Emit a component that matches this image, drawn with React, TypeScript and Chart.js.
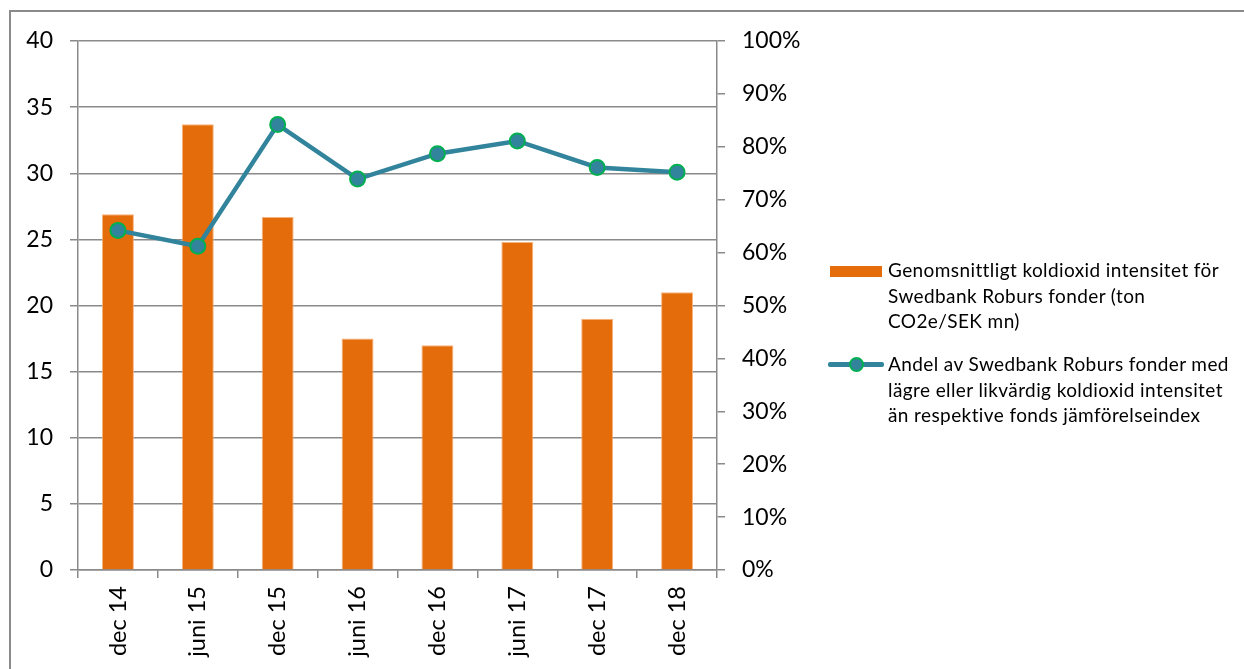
import React, { useEffect, useRef } from "react";
import { Chart, registerables } from "chart.js";

Chart.register(...registerables);

const categories = ["dec 14", "juni 15", "dec 15", "juni 16", "dec 16", "juni 17", "dec 17", "dec 18"];
const intensityValues = [26.9, 33.7, 26.7, 17.5, 17.0, 24.8, 19.0, 21.0];
const shareValues = [64.2, 61.2, 84.2, 73.9, 78.7, 81.1, 76.1, 75.2];
const leftTicks = [0, 5, 10, 15, 20, 25, 30, 35, 40];
const rightTicks = [0, 10, 20, 30, 40, 50, 60, 70, 80, 90, 100];

const barLabel = "Genomsnittligt koldioxid intensitet för Swedbank Roburs fonder (ton CO2e/SEK mn)";
const lineLabel = "Andel av Swedbank Roburs fonder med lägre eller likvärdig koldioxid intensitet än respektive fonds jämförelseindex";

const ORANGE = "#E46C0A";
const TEAL = "#31849B";
const GREEN = "#00B050";
const GRID = "#8a8a8a";
const FONT = "Lato";

export default function App() {
  const ref = useRef<HTMLCanvasElement>(null);

  useEffect(() => {
    if (!ref.current) return;
    const chart = new Chart(ref.current, {
      data: {
        labels: categories,
        datasets: [
          {
            type: "line",
            label: lineLabel,
            data: shareValues,
            yAxisID: "y1",
            borderColor: TEAL,
            borderWidth: 4.5,
            pointRadius: 7.5,
            pointBorderWidth: 2,
            pointBackgroundColor: TEAL,
            pointBorderColor: GREEN,
            tension: 0,
            order: 0,
          },
          {
            type: "bar",
            label: barLabel,
            data: intensityValues,
            yAxisID: "y",
            backgroundColor: ORANGE,
            borderColor: "rgba(247,170,110,0.9)",
            borderWidth: 1,
            categoryPercentage: 1,
            barPercentage: 0.4,
            order: 1,
          },
        ],
      },
      options: {
        responsive: false,
        animation: false,
        layout: { padding: { left: 0, top: 41, right: 417, bottom: 0 } },
        plugins: { legend: { display: false }, tooltip: { enabled: false } },
        scales: {
          x: {
            offset: true,
            grid: { drawOnChartArea: false, offset: true, tickLength: 8, color: GRID, lineWidth: 1.5 },
            border: { color: GRID, width: 1.5 },
            ticks: {
              color: "#000",
              font: { family: FONT, size: 23.5 },
              maxRotation: 90,
              minRotation: 90,
              padding: 8,
              autoSkip: false,
            },
            afterFit: (s: any) => {
              s.height = 99;
            },
          },
          y: {
            position: "left",
            min: 0,
            max: 40,
            afterBuildTicks: (s: any) => {
              s.ticks = leftTicks.map((v) => ({ value: v }));
            },
            grid: { color: GRID, lineWidth: 1.5, tickLength: 8 },
            border: { color: GRID, width: 1.5 },
            ticks: {
              color: "#000",
              font: { family: FONT, size: 23 },
              padding: 17,
              callback: (v: any) => String(v),
            },
            afterFit: (s: any) => {
              s.width = 78;
            },
          },
          y1: {
            position: "right",
            min: 0,
            max: 100,
            afterBuildTicks: (s: any) => {
              s.ticks = rightTicks.map((v) => ({ value: v }));
            },
            grid: { drawOnChartArea: false, color: GRID, lineWidth: 1.5, tickLength: 8 },
            border: { color: GRID, width: 1.5 },
            ticks: {
              color: "#000",
              font: { family: FONT, size: 23 },
              padding: 17,
              callback: (v: any) => v + "%",
            },
            afterFit: (s: any) => {
              s.width = 110;
            },
          },
        },
      },
    });
    return () => chart.destroy();
  }, []);

  const textStyle: React.CSSProperties = {
    position: "absolute",
    left: 888,
    width: 356,
    fontFamily: FONT,
    fontSize: 19,
    letterSpacing: "0.4px",
    lineHeight: "25.5px",
    color: "#000",
    whiteSpace: "nowrap",
  };

  return (
    <div style={{ position: "fixed", left: 0, top: 0, width: 1244, height: 669, overflow: "hidden", background: "#fff" }}>
      <div
        style={{
          position: "absolute",
          left: 9,
          top: 10,
          width: 1300,
          height: 700,
          borderLeft: "2px solid #8a8a8a",
          borderTop: "2px solid #8a8a8a",
        }}
      />
      <canvas ref={ref} width={1244} height={669} style={{ position: "absolute", left: 0, top: 0 }} />
      <div style={{ position: "absolute", left: 830, top: 266, width: 52, height: 11, background: ORANGE }} />
      <div style={{ ...textStyle, top: 257 }}>
        Genomsnittligt koldioxid intensitet för
        <br />
        Swedbank Roburs fonder (ton
        <br />
        CO2e/SEK mn)
      </div>
      <div style={{ position: "absolute", left: 828, top: 362, width: 56, height: 5, background: TEAL, borderRadius: 2 }} />
      <div
        style={{
          position: "absolute",
          left: 849,
          top: 357,
          width: 11,
          height: 11,
          borderRadius: "50%",
          background: TEAL,
          border: "2px solid " + GREEN,
        }}
      />
      <div style={{ ...textStyle, top: 351 }}>
        Andel av Swedbank Roburs fonder med
        <br />
        lägre eller likvärdig koldioxid intensitet
        <br />
        än respektive fonds jämförelseindex
      </div>
    </div>
  );
}
